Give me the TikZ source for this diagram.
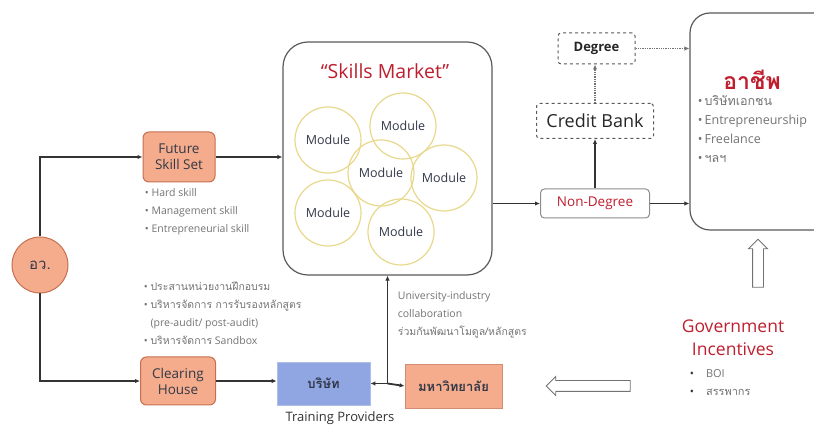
\documentclass[tikz,border=0pt]{standalone}
\usepackage{fontspec}
\setmainfont{Open Sans}
\newfontfamily\thaifont[Script=Thai]{Loma}
\usetikzlibrary{positioning}
\usetikzlibrary{calc}
\usetikzlibrary{arrows.meta}
\usetikzlibrary{shapes.arrows}
\definecolor{salmonfill}{RGB}{245,172,140}
\definecolor{salmonedge}{RGB}{196,112,80}
\definecolor{bluefill}{RGB}{143,166,226}
\definecolor{blueedge}{RGB}{175,190,232}
\definecolor{titlered}{RGB}{190,30,45}
\definecolor{moduleedge}{RGB}{232,216,140}
\definecolor{slate}{RGB}{50,56,72}
\colorlet{border}{black!80}
\colorlet{note}{black!55}
\colorlet{frame}{black!65}
\newcommand\thai[1]{{\thaifont #1}}

\begin{document}
\begin{tikzpicture}[x=1pt, y=-1pt, line width=1.8pt, >={Latex[length=5pt,width=4.5pt]}]
    \tikzset{
        salmon box/.style={
            draw=salmonedge, fill=salmonfill,
            rounded corners=6, line width=1pt,
            align=center, text=slate, inner sep=0pt,
            font=\fontsize{13.5}{16}\selectfont,
        },
        module/.style={
            circle, draw=moduleedge, line width=1.2pt,
            minimum size=66pt, inner sep=0pt,
            text=slate, font=\fontsize{12.5}{14}\selectfont,
        },
        dash box/.style={
            draw=frame, dashed, line width=1pt,
            rounded corners=3, inner sep=0pt,
            text=black!85,
        },
        note text/.style={
            anchor=north west, align=left, inner sep=0pt,
            text=note, font=\fontsize{10.5}{18}\selectfont,
        },
        hollow arrow/.style={
            single arrow, draw=black!55, fill=white,
            line width=0.8pt, inner sep=5pt,
            single arrow head extend=4pt,
        },
        flow/.style={draw=border, ->},
    }
    \useasboundingbox (0,0) rectangle (814,427);
    \clip (0,0) rectangle (814,427);

    % Office
    \node[circle, draw=salmonedge, fill=salmonfill, line width=1pt,
        minimum size=56pt, inner sep=0pt, text=slate,
        font=\thaifont\fontsize{15}{15}\selectfont] (ovo) at (40,265) {อว.};

    \node[salmon box, minimum width=72pt, minimum height=50pt]
        (future) at (179,157) {Future\\Skill Set};
    \node[salmon box, minimum width=75pt, minimum height=48pt]
        (clearing) at (178,381) {Clearing\\House};

    \node[note text] (future-notes) at (144,188)
        {\textbullet\ Hard skill\\
         \textbullet\ Management skill\\
         \textbullet\ Entrepreneurial skill};
    \node[note text] (clearing-notes) at (143,281)
        {\textbullet\ \thai{ประสานหน่วยงานฝึกอบรม}\\
         \textbullet\ \thai{บริหารจัดการ การรับรองหลักสูตร}\\
         \hphantom{\textbullet\ }(pre-audit/ post-audit)\\
         \textbullet\ \thai{บริหารจัดการ} Sandbox};

    % Skills market
    \node[draw=frame, line width=1.2pt, rounded corners=25,
        minimum width=209pt, minimum height=233pt] (market) at (387.5,158.5) {};
    \node[text=titlered, font=\fontsize{19.5}{20}\selectfont] (market-title)
        at (385,71) {``Skills Market''};

    \node[module] (mod-a) at (328,140) {Module};
    \node[module] (mod-b) at (403,126) {Module};
    \node[module] (mod-c) at (328,213) {Module};
    \node[module] (mod-d) at (444,178) {Module};
    \node[module] (mod-e) at (401,232) {Module};
    \node[module] (mod-f) at (381,173) {Module};

    % Training providers
    \node[draw=blueedge, fill=bluefill, line width=0.8pt,
        minimum width=93pt, minimum height=43pt, text=slate,
        font=\thaifont\bfseries\fontsize{13}{13}\selectfont] (company) at (323.5,383.5) {บริษัท};
    \node[draw=salmonedge!80, fill=salmonfill, line width=0.8pt,
        minimum width=97pt, minimum height=44pt, text=slate,
        font=\thaifont\bfseries\fontsize{13}{13}\selectfont] (university) at (453.5,386) {มหาวิทยาลัย};
    \node[text=black!80, font=\fontsize{13}{13}\selectfont]
        (providers) at (340,418) {Training Providers};
    \node[note text] (collab-notes) at (397,291)
        {University-industry\\
         collaboration\\
         \thai{ร่วมกันพัฒนาโมดูล/หลักสูตร}};

    \coordinate (hub) at (market.south |- company);

    % Degree path
    \node[draw=black!45, line width=1pt, rounded corners=4,
        minimum width=109pt, minimum height=29pt, text=titlered,
        font=\fontsize{13.5}{13}\selectfont] (nondegree) at (595,203.5) {Non-Degree};
    \node[dash box, minimum width=117pt, minimum height=35pt,
        font=\fontsize{18}{18}\selectfont] (credit) at (595,121) {Credit Bank};
    \node[dash box, minimum width=77pt, minimum height=31pt,
        font=\bfseries\fontsize{13}{13}\selectfont] (degree) at (596.5,48.5) {Degree};

    % Career
    \node[draw=frame, line width=1.2pt, rounded corners=20,
        minimum width=150pt, minimum height=217pt] (career) at (765,121.5) {};
    \node[text=titlered, font=\thaifont\bfseries\fontsize{23}{23}\selectfont]
        (career-title) at (752,80) {อาชีพ};
    \node[note text, font=\fontsize{12.5}{19}\selectfont] (career-notes) at (697,95)
        {\textbullet\,\thai{บริษัทเอกชน}\\
         \textbullet\,Entrepreneurship\\
         \textbullet\,Freelance\\
         \textbullet\,\thai{ฯลฯ}};

    % Incentives
    \node[text=titlered, align=center, font=\fontsize{17.5}{23}\selectfont]
        (incentives) at (733,338) {Government\\Incentives};
    \node[note text, font=\fontsize{11}{18}\selectfont] (incentive-notes) at (689,369)
        {\textcolor{black!80}{\textbullet}\hspace{12pt}BOI\\
         \textcolor{black!80}{\textbullet}\hspace{12pt}\thai{สรรพากร}};

    \node[hollow arrow, shape border rotate=90,
        minimum height=48pt, minimum width=18pt] (up-arrow) at (758,266) {};
    \node[hollow arrow, shape border rotate=180,
        minimum height=84pt, minimum width=18pt] (left-arrow) at (591,386) {};

    % Connectors
    \draw[flow] (ovo.north) |- (future.west);
    \draw[flow] (ovo.south) |- (clearing.west);
    \draw[flow] (future.east) -- (future.east -| market.west);
    \draw[flow] (clearing.east) -- (clearing.east -| company.west);
    \draw[flow] (hub) -- (company.east);
    \draw[flow] (hub) -- (university.west);
    \draw[flow] (hub) -- (market.south);
    \draw[flow] (market.east |- nondegree) -- (nondegree.west);
    \draw[flow] (nondegree.north) -- (credit.south);
    \draw[flow] (nondegree.east) -- (nondegree.east -| career.west);
    \draw[flow, densely dotted, draw=black!55, line width=1.3pt]
        (credit.north) -- (credit.north |- degree.south);
    \draw[flow, densely dotted, draw=black!55, line width=1.3pt]
        (degree.east) -- (degree.east -| career.west);
\end{tikzpicture}
\end{document}
